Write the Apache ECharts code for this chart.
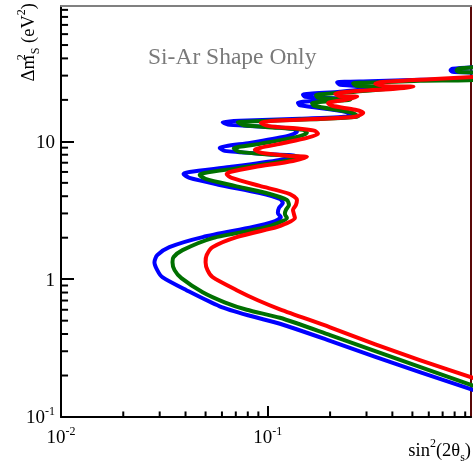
<!DOCTYPE html>
<html><head><meta charset="utf-8">
<script src="https://cdn.jsdelivr.net/npm/echarts@6/dist/echarts.min.js"></script>
<style>html,body{margin:0;padding:0;background:#fff}#c{width:473px;height:470px}</style>
</head><body><div id="c"></div>
<script>
const X_MIN = 0.01, X_MAX = 0.96, Y_MIN = 0.1, Y_MAX = 96;
const xMinorTicks = [0.02,0.03,0.04,0.05,0.06,0.07,0.08,0.09,0.2,0.3,0.4,0.5,0.6,0.7,0.8,0.9];
const yMinorTicks = [0.2,0.3,0.4,0.5,0.6,0.7,0.8,0.9,2,3,4,5,6,7,8,9,20,30,40,50,60,70,80,90];
const titleText = 'Si-Ar Shape Only';

const blueCurve = [
[1.069,34.82],[0.782,33.68],[0.7645,32.84],[0.782,32.03],[1.069,30.97],[1.069,28.48],
[0.547,28.01],[0.3127,27.31],[0.2163,26.86],[0.2236,25.75],[0.3308,24.70],[0.2236,22.91],
[0.1479,21.79],[0.1512,21.07],[0.2236,20.38],[0.1398,19.05],[0.1430,18.27],[0.2365,16.39],
[0.2557,15.33],[0.1430,14.58],[0.0731,14.09],[0.0605,13.75],[0.0654,13.18],[0.1022,12.75],
[0.1323,12.33],[0.1383,11.73],[0.1251,10.96],[0.0818,9.75],[0.0585,8.97],[0.0618,8.53],
[0.0967,8.11],[0.1352,7.84],[0.1144,7.34],[0.0654,6.52],[0.0418,6.00],[0.0391,5.80],
[0.0418,5.43],[0.0585,4.83],[0.0915,4.22],[0.1144,3.82],[0.1182,3.57],[0.1131,3.28],
[0.1118,3.02],[0.1156,2.82],[0.1057,2.60],[0.0846,2.389],[0.0484,2.021],[0.0334,1.709],
[0.0292,1.494],[0.0283,1.329],[0.0292,1.163],[0.0309,1.034],[0.0404,0.832],[0.0585,0.636],
[0.0818,0.5427],[0.1144,0.4747],[0.2000,0.3570],[0.3308,0.2731],[0.547,0.2107],[1.069,0.1508]
];
const greenCurve = [
[1.069,34.82],[0.836,33.68],[0.818,32.84],[0.836,32.03],[1.069,30.97],[1.069,28.24],
[0.547,27.54],[0.3498,26.86],[0.2585,26.41],[0.2674,25.33],[0.4136,24.49],[0.2644,22.91],
[0.1710,21.60],[0.1748,20.72],[0.2501,20.04],[0.1636,18.90],[0.1673,18.12],[0.2557,16.12],
[0.2735,15.20],[0.1599,14.45],[0.0865,13.98],[0.0715,13.75],[0.0765,13.07],[0.1144,12.53],
[0.1479,12.12],[0.1546,11.53],[0.1383,10.78],[0.0915,9.59],[0.0684,8.89],[0.0731,8.39],
[0.1081,7.98],[0.1430,7.72],[0.1209,7.21],[0.0731,6.42],[0.0494,5.90],[0.0468,5.71],
[0.0500,5.34],[0.0692,4.75],[0.1022,4.15],[0.1237,3.75],[0.1265,3.45],[0.1223,3.18],
[0.1209,2.97],[0.1237,2.78],[0.1118,2.555],[0.0946,2.349],[0.0541,1.987],[0.0387,1.625],
[0.0350,1.445],[0.0346,1.329],[0.0354,1.163],[0.0382,1.017],[0.0484,0.804],[0.0618,0.680],
[0.0791,0.600],[0.1144,0.5248],[0.2000,0.3928],[0.3308,0.3004],[0.547,0.2299],[1.069,0.1612]
];
const redCurve = [
[1.069,29.45],[0.6114,28.24],[0.3698,27.08],[0.3308,26.19],[0.3698,25.12],[0.5057,24.91],
[0.4136,24.09],[0.2797,23.30],[0.2115,22.16],[0.2236,21.25],[0.2704,21.07],[0.2365,20.04],
[0.1955,18.90],[0.2045,18.12],[0.2644,16.95],[0.2892,16.12],[0.2644,15.08],[0.1788,14.58],
[0.1081,14.09],[0.0925,13.63],[0.1000,12.96],[0.1430,12.33],[0.1691,11.92],[0.1748,11.34],
[0.1546,10.60],[0.1144,9.59],[0.0865,8.68],[0.0935,8.25],[0.1279,7.84],[0.1546,7.72],
[0.1323,7.21],[0.0865,6.52],[0.0654,6.00],[0.0632,5.80],[0.0669,5.43],[0.0915,4.75],
[0.1279,4.15],[0.1383,3.75],[0.1367,3.45],[0.1323,3.18],[0.1337,2.97],[0.1352,2.78],
[0.1209,2.512],[0.1106,2.389],[0.0707,2.021],[0.0541,1.709],[0.0506,1.494],[0.0500,1.329],
[0.0511,1.163],[0.0541,1.034],[0.0707,0.832],[0.0894,0.7035],[0.1144,0.605],[0.2000,0.4477],
[0.3308,0.337],[0.547,0.2576],[1.069,0.1842]
];

const F = '"Liberation Serif", "Times New Roman", serif';
const GRID = {left: 61, right: 2, top: 6, bottom: 53};
const W = 473, H = 470;
const pxPerDecX = (W - GRID.left - GRID.right) / Math.log10(X_MAX / X_MIN);
const pxPerDecY = (H - GRID.top - GRID.bottom) / Math.log10(Y_MAX / Y_MIN);
const X_BASE = X_MIN * 1.0005, Y_BASE = Y_MIN * 1.0005;

function logLabel(v) {
  const l = Math.log10(v), e = Math.round(l);
  if (Math.abs(l - e) > 1e-6) return '';
  if (e === 0) return '{b|1}';
  if (e === 1) return '{b|10}';
  return '{b|10}{s|' + e + '}';
}
const labelRich = {
  b: {fontSize: 19, fontFamily: F, color: '#000', lineHeight: 22, verticalAlign: 'bottom'},
  s: {fontSize: 12, fontFamily: F, color: '#000', lineHeight: 12, verticalAlign: 'top'}
};
function tickSeries(values, isX, lenPx) {
  return values.map(v => {
    const data = isX
      ? [[v, Y_BASE], [v, Y_BASE * Math.pow(10, lenPx / pxPerDecY)]]
      : [[X_BASE, v], [X_BASE * Math.pow(10, lenPx / pxPerDecX), v]];
    return {type: 'line', data: data, xAxisIndex: 0, yAxisIndex: 0, showSymbol: false, symbol: 'none',
      silent: true, z: 10, lineStyle: {color: '#000', width: 2}};
  });
}
function curve(data, color) {
  return {type: 'line', data: data, xAxisIndex: 0, yAxisIndex: 0, showSymbol: false, symbol: 'none',
    smooth: 0.25, clip: true, silent: true,
    lineStyle: {color: color, width: 4, join: 'round', cap: 'round'}};
}
const subRich = {
  a: {fontSize: 18.5, fontFamily: F, lineHeight: 26, verticalAlign: 'middle'},
  p: {fontSize: 12, fontFamily: F, lineHeight: 12, verticalAlign: 'top', width: 1},
  r: {fontSize: 12, fontFamily: F, lineHeight: 12, verticalAlign: 'top'},
  q: {fontSize: 12, fontFamily: F, lineHeight: 12, verticalAlign: 'bottom'}
};

const chart = echarts.init(document.getElementById('c'), null, {renderer: 'canvas'});
chart.setOption({
  animation: false,
  backgroundColor: '#fff',
  grid: {left: GRID.left, right: GRID.right, top: GRID.top, bottom: GRID.bottom, containLabel: false, outerBoundsMode: 'none'},
  xAxis: [
    {type: 'log', logBase: 10, min: X_MIN, max: X_MAX, position: 'bottom',
      axisLine: {show: true, lineStyle: {color: '#000', width: 2}},
      axisTick: {show: true, inside: true, length: 11, lineStyle: {color: '#000', width: 2}},
      splitLine: {show: false}, minorTick: {show: false},
      axisLabel: {formatter: logLabel, rich: labelRich, margin: 9, showMaxLabel: false}},
    {type: 'log', logBase: 10, min: X_MIN, max: X_MAX, position: 'top',
      axisLine: {show: true, lineStyle: {color: '#808080', width: 2}},
      axisTick: {show: false}, axisLabel: {show: false}, splitLine: {show: false}}
  ],
  yAxis: [
    {type: 'log', logBase: 10, min: Y_MIN, max: Y_MAX, position: 'left',
      axisLine: {show: true, lineStyle: {color: '#000', width: 2}},
      axisTick: {show: true, inside: true, length: 13, lineStyle: {color: '#000', width: 2}},
      splitLine: {show: false}, minorTick: {show: false},
      axisLabel: {formatter: logLabel, rich: labelRich, margin: 6, showMaxLabel: false}},
    {type: 'log', logBase: 10, min: Y_MIN, max: Y_MAX, position: 'right',
      axisLine: {show: true, lineStyle: {color: '#5a0808', width: 2}},
      axisTick: {show: false}, axisLabel: {show: false}, splitLine: {show: false}}
  ],
  series: [
    curve(blueCurve, '#0000ff'),
    curve(greenCurve, '#007000'),
    curve(redCurve, '#ff0000')
  ].concat(
    tickSeries(xMinorTicks, true, 5.5),
    tickSeries(yMinorTicks, false, 7)
  ),
  graphic: [
    {id: 'title', type: 'text', x: 148, y: 58, silent: true,
      style: {text: titleText, fill: '#7a7a7a', fontSize: 23.5, fontFamily: F, verticalAlign: 'middle', align: 'left'}},
    {id: 'ytitle', type: 'text', x: 29, y: 3, rotation: Math.PI / 2, silent: true,
      style: {text: '{a|\u0394m}{p|2}{q|S}{a| (eV}{r|2}{a|)}', rich: subRich, align: 'right', verticalAlign: 'middle', fill: '#000'}},
    {id: 'xtitle', type: 'text', x: 471, y: 451, silent: true,
      style: {text: '{a|sin}{r|2}{a|(2\u03b8}{q|s}{a|)}', rich: subRich, align: 'right', verticalAlign: 'middle', fill: '#000'}}
  ]
});
</script></body></html>
